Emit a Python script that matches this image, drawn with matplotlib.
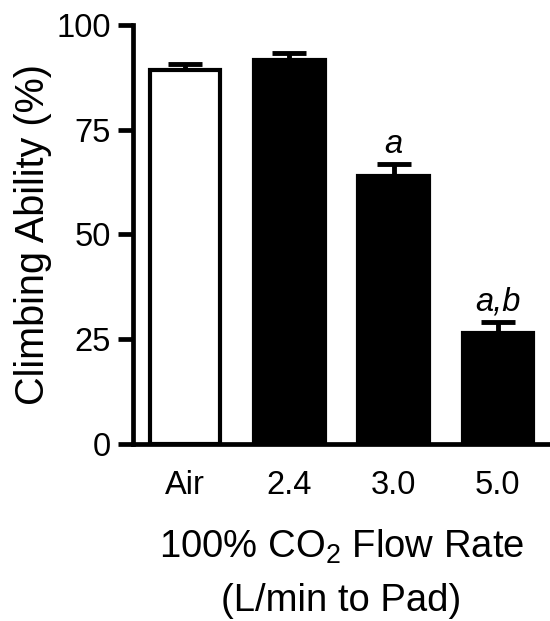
import matplotlib
matplotlib.use("Agg")
import matplotlib.pyplot as plt
import numpy as np

plt.rcParams['font.family'] = ['Liberation Sans', 'DejaVu Sans']
plt.rcParams['mathtext.fontset'] = 'custom'
plt.rcParams['mathtext.rm'] = 'Liberation Sans'

groups = ['Air', '2.4', '3.0', '5.0']
climbing = [89.2, 91.7, 64.0, 26.6]
sem = [1.4, 1.7, 2.8, 2.6]
signif = ['', '', 'a', 'a,b']
fills = ['white', 'black', 'black', 'black']

fig = plt.figure(figsize=(5.5, 6.21), dpi=100)
ax = fig.add_axes([0.242, 0.285, 0.758, 0.675])

x = np.arange(len(groups))
ax.errorbar(x, climbing, yerr=[np.zeros(len(sem)), sem], fmt='none',
            ecolor='black', elinewidth=3.5, capsize=12, capthick=3.5, zorder=1)
ax.bar(x, climbing, width=0.675, color=fills, edgecolor='black',
       linewidth=3, zorder=2)

for xi, v, e, s in zip(x, climbing, sem, signif):
    if s:
        ax.annotate(s, (xi, v + e), xytext=(0, 8), textcoords='offset points',
                    ha='center', va='baseline', fontsize=23.5, style='italic')

ax.set_xlim(-0.5, 3.5)
ax.set_ylim(0, 100)
ax.set_yticks([0, 25, 50, 75, 100])
ax.set_xticks(x)
ax.set_xticklabels(groups)

for side in ['top', 'right']:
    ax.spines[side].set_visible(False)
for side in ['left', 'bottom']:
    ax.spines[side].set_linewidth(3.4)

ax.tick_params(axis='y', length=10.8, width=3.4, labelsize=23.5, pad=5)
ax.tick_params(axis='x', length=0, labelsize=23.5, pad=19)

ax.set_ylabel('Climbing Ability (%)', fontsize=28.5, labelpad=3)
ax.set_xlabel('100% CO$_\\mathregular{2}$ Flow Rate\n(L/min to Pad)',
              fontsize=27.5, labelpad=19, linespacing=1.6)

fig.savefig('out.png', dpi=100)
